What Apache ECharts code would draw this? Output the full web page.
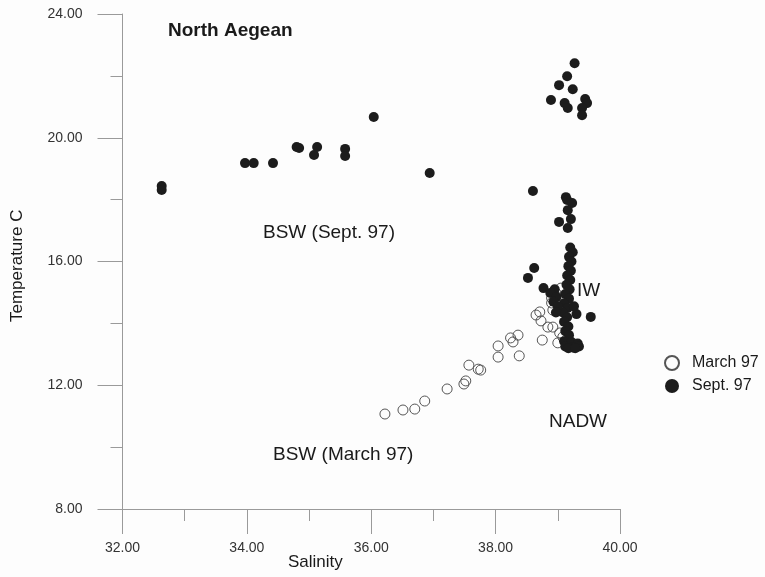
<!DOCTYPE html>
<html>
<head>
<meta charset="utf-8">
<title>North Aegean T-S diagram</title>
<script src="https://cdn.jsdelivr.net/npm/echarts@6/dist/echarts.min.js"></script>
<style>
  html, body { margin: 0; padding: 0; background: #fdfdfd; }
  #chart { width: 765px; height: 577px; }
</style>
</head>
<body>
<div id="chart"></div>
<script>
// Salinity / temperature pairs for each survey
const march97 = [
  [36.22, 11.07], [36.51, 11.20], [36.70, 11.23], [36.86, 11.49], [37.22, 11.88],
  [37.49, 12.04], [37.52, 12.14], [37.57, 12.65], [37.72, 12.52], [37.76, 12.49],
  [38.04, 13.27], [38.04, 12.91], [38.24, 13.53], [38.28, 13.40], [38.36, 13.62],
  [38.38, 12.95], [38.75, 13.46], [38.65, 14.27], [38.71, 14.37], [38.73, 14.08],
  [38.84, 13.88], [38.92, 13.88], [38.90, 14.66], [38.90, 14.82], [39.05, 15.14],
  [38.97, 14.98], [38.92, 14.43], [39.03, 13.69], [39.08, 13.56], [39.00, 13.37]
];

const sept97 = [
  [32.63, 18.44], [32.63, 18.31], [33.97, 19.18], [34.11, 19.18], [34.42, 19.18],
  [34.80, 19.70], [34.84, 19.67], [35.13, 19.70], [35.08, 19.44], [35.58, 19.64],
  [35.58, 19.41], [36.04, 20.67], [36.94, 18.86],
  [39.27, 22.41], [39.15, 21.99], [39.02, 21.70], [39.24, 21.57], [38.89, 21.22],
  [39.11, 21.12], [39.16, 20.96], [39.44, 21.25], [39.47, 21.12], [39.39, 20.96],
  [39.39, 20.73],
  [38.60, 18.28], [39.13, 18.08], [39.15, 17.99], [39.23, 17.89], [39.16, 17.66],
  [39.21, 17.37], [39.02, 17.28], [39.16, 17.08],
  [39.20, 16.45], [39.24, 16.30], [39.18, 16.15], [39.22, 16.00], [39.17, 15.85],
  [39.21, 15.70], [39.15, 15.55], [39.20, 15.40], [39.14, 15.25], [39.19, 15.10],
  [39.12, 14.95], [39.18, 14.80], [39.10, 14.65], [39.16, 14.50], [39.08, 14.35],
  [39.15, 14.20], [39.10, 14.05], [39.17, 13.90], [39.12, 13.75], [39.18, 13.62],
  [38.62, 15.79], [38.52, 15.47], [38.77, 15.14], [38.95, 15.10], [38.88, 14.98],
  [38.98, 14.85], [38.93, 14.70], [39.00, 14.55], [38.97, 14.35],
  [39.53, 14.21], [39.30, 14.30], [39.26, 14.55],
  [39.10, 13.42], [39.22, 13.40], [39.32, 13.35], [39.12, 13.25], [39.24, 13.22],
  [39.34, 13.25], [39.17, 13.20], [39.28, 13.20]
];

const salinityRange = [32, 40];
const temperatureRange = [8, 24];

// Water mass annotations: [text, left, top, bold]
const waterMassLabels = [
  ['North Aegean', 168, 21, true],
  ['BSW (Sept. 97)', 263, 223, false],
  ['IW', 577, 281, false],
  ['NADW', 549, 412, false],
  ['BSW (March 97)', 273, 445, false]
];

const FONT = '"Liberation Sans", Arial, Helvetica, sans-serif';
const AXIS_GREY = '#9a9a9a';

const chart = echarts.init(document.getElementById('chart'), null, { renderer: 'canvas' });

const graphics = waterMassLabels.map(([text, x, y, bold]) => ({
  type: 'text',
  left: x,
  top: y,
  z: 10,
  style: {
    text: text,
    fill: '#1a1a1a',
    font: (bold ? 'bold 19px ' : '19px ') + FONT
  }
}));

// Axis titles
graphics.push({
  type: 'text',
  left: 288,
  top: 554,
  style: { text: 'Salinity', fill: '#1a1a1a', font: '17px ' + FONT }
});
graphics.push({
  type: 'text',
  x: 9,
  y: 322,
  rotation: Math.PI / 2,
  style: { text: 'Temperature C', fill: '#1a1a1a', font: '17px ' + FONT }
});

chart.setOption({
  backgroundColor: '#fdfdfd',
  animation: false,
  textStyle: { fontFamily: FONT },
  grid: { left: 122.5, right: 145, top: 14, bottom: 68, containLabel: false },
  legend: {
    data: ['March 97', 'Sept. 97'],
    orient: 'vertical',
    left: 659,
    top: 350,
    itemWidth: 14,
    itemHeight: 14,
    itemGap: 7,
    icon: 'circle',
    textStyle: { fontSize: 16, color: '#1a1a1a', padding: [0, 0, 0, 8], fontFamily: FONT }
  },
  xAxis: {
    type: 'value',
    min: salinityRange[0],
    max: salinityRange[1],
    interval: 2,
    axisLine: { show: true, lineStyle: { color: AXIS_GREY, width: 1 } },
    axisTick: { show: true, length: 25, lineStyle: { color: AXIS_GREY } },
    minorTick: { show: true, splitNumber: 2, length: 12, lineStyle: { color: AXIS_GREY } },
    splitLine: { show: false },
    axisLabel: {
      margin: 32,
      color: '#333',
      fontSize: 14,
      fontFamily: FONT,
      formatter: v => v.toFixed(2)
    }
  },
  yAxis: {
    type: 'value',
    min: temperatureRange[0],
    max: temperatureRange[1],
    interval: 4,
    axisLine: { show: true, lineStyle: { color: AXIS_GREY, width: 1 } },
    axisTick: { show: true, length: 25, lineStyle: { color: AXIS_GREY } },
    minorTick: { show: true, splitNumber: 2, length: 12, lineStyle: { color: AXIS_GREY } },
    splitLine: { show: false },
    axisLabel: {
      margin: 40,
      color: '#333',
      fontSize: 14,
      fontFamily: FONT,
      formatter: v => v.toFixed(2)
    }
  },
  series: [
    {
      name: 'March 97',
      type: 'scatter',
      data: march97,
      symbol: 'circle',
      symbolSize: 10,
      z: 2,
      itemStyle: { color: 'rgba(255,255,255,0)', borderColor: '#555', borderWidth: 1, opacity: 1 }
    },
    {
      name: 'Sept. 97',
      type: 'scatter',
      data: sept97,
      symbol: 'circle',
      symbolSize: 10,
      z: 3,
      itemStyle: { color: '#1c1c1c', opacity: 1 }
    }
  ],
  graphic: graphics
});
</script>
</body>
</html>
